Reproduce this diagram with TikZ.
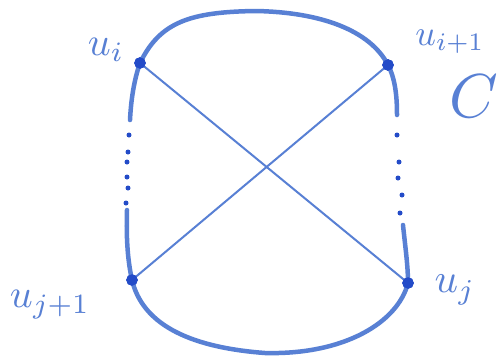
\documentclass[tikz,border=0pt]{standalone}
\usepackage{graphicx}
\definecolor{pen}{RGB}{88,128,212}
\definecolor{penDark}{RGB}{35,75,200}
\tikzset{
  cyc/.style={pen, line width=4.5pt, line cap=round},
  chord/.style={pen, line width=2pt, line cap=round},
  vert/.style={circle, fill=penDark, draw=penDark, inner sep=0pt, minimum size=11pt},
  gap/.style={circle, fill=penDark, inner sep=0pt, minimum size=5pt},
  lab/.style={text=pen, inner sep=0pt}
}
\begin{document}
\begin{tikzpicture}[x=1pt,y=-1pt]
\useasboundingbox (0,0) rectangle (500,360);
\fill[white] (0,0) rectangle (500,360);
% vertices
\node[vert] (ui) at (140,63) {};
\node[vert] (ui1) at (388,65) {};
\node[vert] (uj1) at (132,280) {};
\node[vert] (uj) at (408,283) {};
% free ends of the side paths
\coordinate (lt) at (130,120);
\coordinate (lb) at (127,210);
\coordinate (rt) at (397,115);
\coordinate (rb) at (403,225);
% cycle arcs
\draw[cyc] (ui.center) .. controls (160,22) and (190,12) .. (255,11) .. controls (320,12) and (370,30) .. (ui1.center);
\draw[cyc] (uj1.center) .. controls (142,322) and (185,347) .. (265,353) .. controls (345,355) and (398,322) .. (uj.center);
\draw[cyc] (ui.center) .. controls (134,80) and (131,100) .. (lt);
\draw[cyc] (lb) .. controls (126,240) and (128,262) .. (uj1.center);
\draw[cyc] (ui1.center) .. controls (396,80) and (397,100) .. (rt);
\draw[cyc] (rb) .. controls (405,245) and (408,265) .. (uj.center);
% dots
\foreach \n/\x/\y in {a/129/135, b/128/152, c/127/162, d/127/177, e/128/188, f/126/203}
  \node[gap] (l\n) at (\x,\y) {};
\foreach \n/\x/\y in {a/397/135, b/399/162, c/398/178, d/402/195, e/400/213}
  \node[gap] (r\n) at (\x,\y) {};
% chords
\draw[chord] (ui.center) -- (uj.center);
\draw[chord] (ui1.center) -- (uj1.center);
\node[vert] at (ui) {};
\node[vert] at (ui1) {};
\node[vert] at (uj1) {};
\node[vert] at (uj) {};
% labels
\node[lab] (lui) at (106,50) {\scalebox{4}{$u_i$}};
\node[lab] (lui1) at (450,42) {\scalebox{3.6}{$u_{i+1}$}};
\node[lab] (lc) at (474,96) {\scalebox{6.2}{$C$}};
\node[lab] (luj1) at (50,305) {\scalebox{4}{$u_{j+1}$}};
\node[lab] (luj) at (455,290) {\scalebox{4.1}{$u_j$}};
\end{tikzpicture}
\end{document}
